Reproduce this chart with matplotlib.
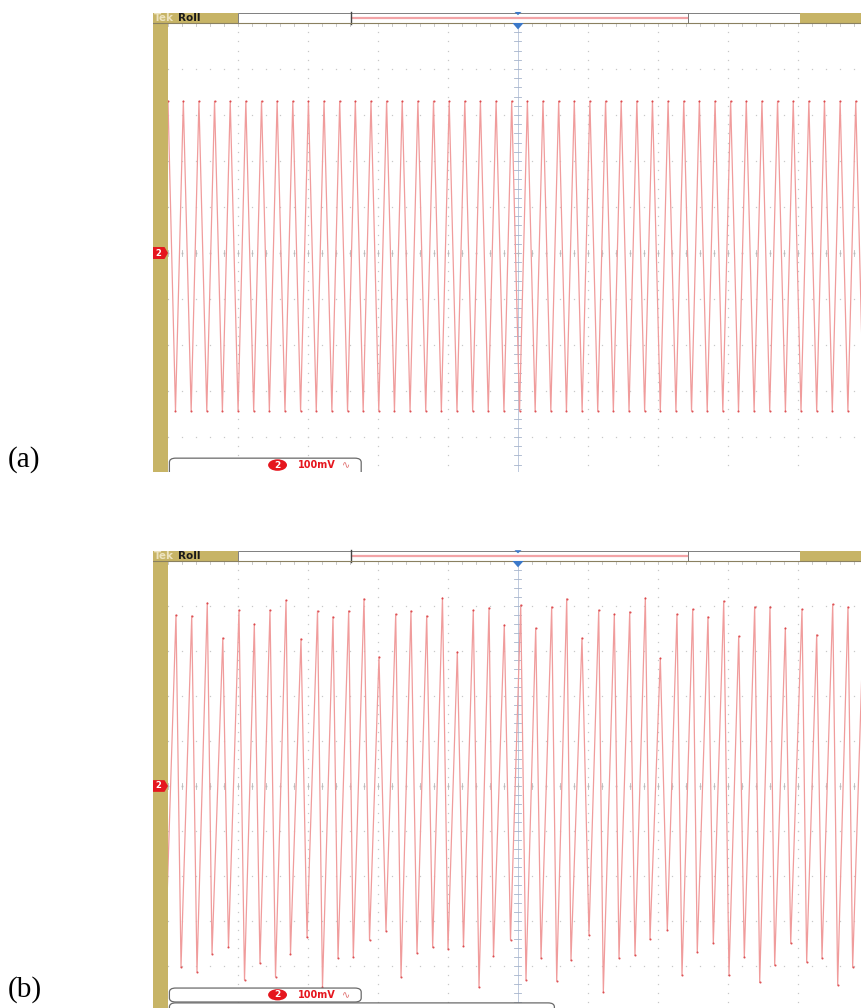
import numpy as np
import matplotlib
matplotlib.use("Agg")
import matplotlib.pyplot as plt
from matplotlib.patches import Rectangle, FancyBboxPatch, Polygon, Ellipse

# Channel-2 trace extrema: time in horizontal divisions, level in mV (100 mV/div)
a_peak_t = [0.000, 0.219, 0.442, 0.665, 0.889, 1.112, 1.336, 1.559, 1.783, 2.006,
            2.229, 2.453, 2.676, 2.900, 3.123, 3.346, 3.570, 3.793, 4.017, 4.240,
            4.463, 4.687, 4.910, 5.134, 5.357, 5.581, 5.804, 6.027, 6.251, 6.474,
            6.698, 6.921, 7.144, 7.368, 7.591, 7.815, 8.038, 8.261, 8.485, 8.708,
            8.932, 9.155, 9.378, 9.602, 9.825]
a_peak_mv = [330] * 45
a_trough_t = [0.107, 0.331, 0.554, 0.777, 1.001, 1.224, 1.448, 1.671, 1.894, 2.118,
              2.341, 2.565, 2.788, 3.011, 3.235, 3.458, 3.682, 3.905, 4.128, 4.352,
              4.575, 4.799, 5.022, 5.245, 5.469, 5.692, 5.916, 6.139, 6.362, 6.586,
              6.809, 7.033, 7.256, 7.479, 7.703, 7.926, 8.150, 8.373, 8.596, 8.820,
              9.043, 9.267, 9.490, 9.713, 9.937]
a_trough_mv = [-343] * 45

b_peak_t = [0.114, 0.339, 0.561, 0.783, 1.014, 1.233, 1.457, 1.686, 1.900, 2.136,
            2.357, 2.581, 2.800, 3.014, 3.253, 3.471, 3.696, 3.921, 4.133, 4.361,
            4.586, 4.804, 5.039, 5.253, 5.481, 5.696, 5.914, 6.153, 6.376, 6.596,
            6.819, 7.033, 7.271, 7.496, 7.714, 7.939, 8.153, 8.381, 8.600, 8.819,
            9.057, 9.267, 9.496, 9.714, 9.940]
b_peak_mv = [380, 378, 407, 329, 391, 360, 391, 413, 327, 389,
             376, 389, 416, 287, 382, 389, 378, 418, 298, 391,
             396, 358, 402, 351, 398, 416, 329, 391, 382, 387,
             418, 284, 382, 393, 376, 411, 333, 398, 398, 351,
             393, 336, 404, 398, 390]
b_trough_t = [-0.040, 0.186, 0.414, 0.629, 0.864, 1.093, 1.314, 1.536, 1.750, 1.986,
              2.207, 2.429, 2.647, 2.879, 3.114, 3.329, 3.557, 3.781, 4.000, 4.221,
              4.443, 4.650, 4.893, 5.114, 5.329, 5.553, 5.757, 6.014, 6.219, 6.443,
              6.671, 6.886, 7.133, 7.343, 7.561, 7.790, 8.014, 8.233, 8.453, 8.667,
              8.896, 9.124, 9.343, 9.567, 9.781]
b_trough_mv = [-380, -402, -413, -373, -358, -431, -393, -424, -373, -336,
               -447, -382, -380, -342, -322, -424, -371, -358, -362, -356,
               -447, -378, -342, -431, -382, -433, -387, -331, -458, -382,
               -376, -340, -320, -420, -369, -349, -420, -380, -436, -398,
               -349, -391, -382, -442, -402]

channel = "2"
scale_text = "100mV"
mode_text = "Roll"
panel_labels = ["(a)", "(b)"]

GOLD = "#c7b466"
TRACE = "#f09c9c"
TIP = "#d8383c"
GRID = "#c8c8c8"
RED = "#e5161e"
BLUE = "#3b78c9"
EDGE = "#6a6a6a"

FW, FH = 862, 1008
fig = plt.figure(figsize=(FW / 100, FH / 100), dpi=100)

XMIN, XMAX = -15 / 70, 694 / 70


def merged(pt, pv, tt, tv):
    t = np.concatenate([np.asarray(pt, float), np.asarray(tt, float)])
    v = np.concatenate([np.asarray(pv, float), np.asarray(tv, float)]) / 100.0
    o = np.argsort(t)
    return t[o], v[o], np.asarray(pt, float), np.asarray(pv, float) / 100.0, \
        np.asarray(tt, float), np.asarray(tv, float) / 100.0


def scope(top_px, bot_px, ylim, pt, pv, tt, tv, lower_box_top, lower_box_bot, extra_box):
    ax = fig.add_axes([153 / FW, 1 - bot_px / FH, (FW - 153) / FW, (bot_px - top_px) / FH])
    ax.set_xlim(XMIN, XMAX)
    ax.set_ylim(*ylim)
    ax.axis("off")

    # graticule: dotted major lines sampled at minor-division spacing
    yy = np.arange(-5, 5.001, 0.2)
    xx = np.arange(0, 10.001, 0.2)
    for gx in range(1, 10):
        if gx == 5:
            continue
        ax.plot(np.full_like(yy, gx), yy, ls="none", marker="s", ms=0.9,
                mec="none", mfc=GRID, zorder=1)
    for gy in range(-4, 5):
        ax.plot(xx, np.full_like(xx, gy), ls="none", marker="s", ms=0.9,
                mec="none", mfc=GRID, zorder=1)

    # centre cross with minor ticks
    ax.plot([5, 5], [-5, 5], color="#b4c2d8", lw=0.6, zorder=1)
    for yv in yy:
        ax.plot([4.95, 5.05], [yv, yv], color="#a6b4cc", lw=0.6, zorder=1)
    ax.plot(xx, np.zeros_like(xx), ls="none", marker="s", ms=1.1,
            mec="none", mfc="#b0b0b0", zorder=1)
    for xv in xx:
        ax.plot([xv, xv], [-0.06, 0.06], color="#bcbcbc", lw=0.6, zorder=1)
        ax.plot([xv, xv], [4.94, 5.0], color="#c0c0c0", lw=0.6, zorder=1)

    # waveform
    t, v, ptt, pvv, ttt, tvv = merged(pt, pv, tt, tv)
    ln, = ax.plot(t, v, color=TRACE, lw=0.9, zorder=3, solid_joinstyle="round")
    ln.set_clip_path(Rectangle((0, -5.5), 10, 10.5, transform=ax.transData))
    for xs, ys in ((ptt, pvv), (ttt, tvv)):
        mk, = ax.plot(xs, ys, ls="none", marker="o", ms=1.5, mec="none", mfc=TIP,
                      alpha=0.85, zorder=4)
        mk.set_clip_path(Rectangle((0, -5.5), 10, 10.5, transform=ax.transData))

    # left strip and top status bar
    ax.add_patch(Rectangle((XMIN, ylim[0]), -XMIN, 5.22 - ylim[0], fc=GOLD, ec="none", zorder=5))
    y0, y1 = 5.0, 5.22
    ax.add_patch(Rectangle((XMIN, y0), 1.0 - XMIN, y1 - y0, fc=GOLD, ec="none", zorder=5))
    ax.add_patch(Rectangle((1.0, y0), 1.614, y1 - y0, fc="white", ec=EDGE, lw=0.6, zorder=5))
    ax.add_patch(Rectangle((2.614, y0), 4.816, y1 - y0, fc="white", ec=EDGE, lw=0.6, zorder=5))
    ax.plot([2.63, 7.42], [5.11, 5.11], color="#f2a3a6", lw=1.6, zorder=6)
    ax.plot([2.614, 2.614], [y0 - 0.02, y1 + 0.02], color="#444444", lw=1.0, zorder=6)
    ax.add_patch(Rectangle((7.43, y0), 1.60, y1 - y0, fc="white", ec=EDGE, lw=0.6, zorder=5))
    ax.add_patch(Rectangle((9.03, y0), XMAX - 9.03, y1 - y0, fc=GOLD, ec="none", zorder=5))
    ax.plot([XMIN, XMAX], [y0, y0], color="#8a8060", lw=0.8, zorder=6)
    ax.text(-0.2, 5.11, "Tek", fontsize=7.5, fontweight="bold", color="#f4ecd0",
            alpha=0.85, va="center", ha="left", zorder=7)
    ax.text(0.14, 5.11, mode_text, fontsize=7.5, fontweight="bold", color="#1a1a1a",
            va="center", ha="left", zorder=7)

    # trigger markers
    ax.add_patch(Polygon([[4.95, 5.24], [5.05, 5.24], [5.0, 5.17]], closed=True,
                         fc=BLUE, ec="none", zorder=7))
    ax.add_patch(Polygon([[4.92, 5.0], [5.08, 5.0], [5.0, 4.86]], closed=True,
                         fc=BLUE, ec="none", zorder=7))

    # channel ground marker
    ax.add_patch(Polygon([[-0.235, 0.13], [-0.05, 0.13], [0.0, 0.0], [-0.05, -0.13],
                          [-0.235, -0.13]], closed=True, fc=RED, ec="none", zorder=7))
    ax.text(-0.135, 0.0, channel, fontsize=6, fontweight="bold", color="white",
            ha="center", va="center", zorder=8)

    # channel readout box
    ax.add_patch(FancyBboxPatch((0.02, lower_box_bot), 2.74, lower_box_top - lower_box_bot,
                                boxstyle="round,pad=0,rounding_size=0.09",
                                fc="white", ec=EDGE, lw=0.9, zorder=6))
    yc = lower_box_top - 0.15
    ax.add_patch(Ellipse((1.565, yc), 0.27, 0.25, fc=RED, ec="none", zorder=7))
    ax.text(1.565, yc, channel, fontsize=6.5, fontweight="bold", color="white",
            ha="center", va="center", zorder=8)
    ax.text(1.85, yc, scale_text, fontsize=7, fontweight="bold", color=RED,
            ha="left", va="center", zorder=8)
    ax.text(2.49, yc, "\u223f", fontsize=7, color="#e06a6a",
            ha="left", va="center", zorder=8)
    if extra_box:
        ax.add_patch(FancyBboxPatch((0.02, lower_box_bot - 0.6), 5.5, 0.58,
                                    boxstyle="round,pad=0,rounding_size=0.09",
                                    fc="white", ec=EDGE, lw=0.9, zorder=6))
    return ax


scope(11, 472, (-(472 - 253) / 46, (253 - 11) / 46),
      a_peak_t, a_peak_mv, a_trough_t, a_trough_mv,
      -4.46, -5.2, False)
scope(549, 1008, (-(1008 - 786) / 45, (786 - 549) / 45),
      b_peak_t, b_peak_mv, b_trough_t, b_trough_mv,
      -4.49, -4.8, True)

fig.text(8 / FW, 1 - 460 / FH, panel_labels[0], fontsize=21, family="Liberation Serif",
         ha="left", va="center")
fig.text(8 / FW, 1 - 990 / FH, panel_labels[1], fontsize=21, family="Liberation Serif",
         ha="left", va="center")

fig.savefig("out.png", dpi=100, facecolor="white")
